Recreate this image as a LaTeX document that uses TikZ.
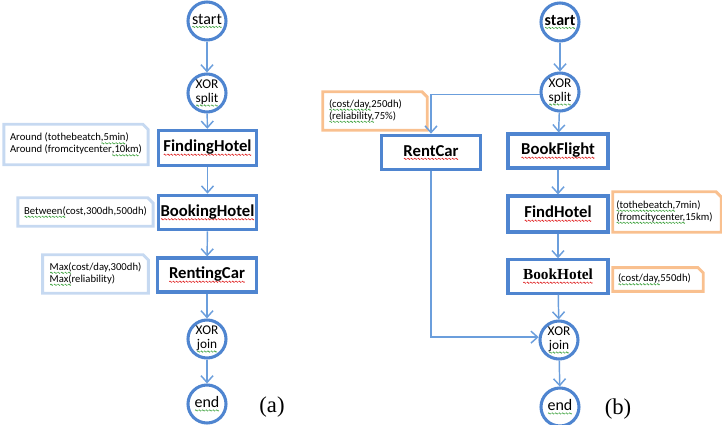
\documentclass[tikz,border=0pt]{standalone}
\usepackage{fontspec}
\setmainfont{Carlito}
\newfontfamily\tnr{Liberation Serif}
\usetikzlibrary{arrows.meta}
\definecolor{boxblue}{HTML}{4F85D0}
\definecolor{lineblue}{HTML}{6B9EDC}
\definecolor{annblue}{HTML}{C6D9F1}
\definecolor{annorange}{HTML}{F9C08F}
\definecolor{wred}{HTML}{E02020}
\definecolor{wgreen}{HTML}{3FA33F}
\newsavebox\rwvbox
\newsavebox\gwvbox
\newsavebox\wvtmpbox
\newcommand\mkwave[2]{\sbox#1{\begin{pgfpicture}\pgfsetcolor{#2}\pgfsetlinewidth{0.45pt}%
  \pgfpathmoveto{\pgfpoint{0pt}{0.5pt}}%
  \pgfpathsine{\pgfpoint{0.5pt}{0.5pt}}\pgfpathcosine{\pgfpoint{0.5pt}{-0.5pt}}%
  \pgfpathsine{\pgfpoint{0.5pt}{-0.5pt}}\pgfpathcosine{\pgfpoint{0.5pt}{0.5pt}}%
  \pgfusepath{stroke}\end{pgfpicture}}}
\newcommand\wavewith[2]{\leavevmode\sbox\wvtmpbox{#2}\rlap{\lower2.8pt\hbox to\wd\wvtmpbox{\xleaders\copy#1\hfill}}\usebox\wvtmpbox}
\newcommand\rwave[1]{\wavewith\rwvbox{#1}}
\newcommand\gwave[1]{\wavewith\gwvbox{#1}}
\newcommand\annframe[2]{\draw[draw=#2,line width=2.2pt] (#1.south west) -- (#1.north west)
  -- ([xshift=-4pt]#1.north east) -- ([yshift=-4pt]#1.north east) -- (#1.south east) -- cycle;}
\begin{document}
\mkwave\rwvbox{wred}%
\mkwave\gwvbox{wgreen}%
\begin{tikzpicture}[x=0.75pt,y=-0.75pt,
  evt/.style={circle,draw=boxblue,line width=2.3pt,fill=white,minimum size=28.5pt,inner sep=0pt,
    font=\fontsize{12}{13}\selectfont},
  gate/.style={circle,draw=boxblue,line width=2.3pt,fill=white,minimum size=28.5pt,inner sep=0pt,
    align=center,font=\fontsize{10}{11}\selectfont},
  task/.style={rectangle,draw=boxblue,line width=2.3pt,fill=white,minimum width=74pt,minimum height=26pt,
    inner sep=0pt,font=\fontsize{12.5}{14}\selectfont\bfseries},
  ann/.style={rectangle,align=left,font=\fontsize{8}{9}\selectfont,inner xsep=4.5pt,inner ysep=0pt},
  flow/.style={draw=lineblue,line width=1.1pt,-{Straight Barb[length=5pt,width=9pt,line width=1.1pt]}}]
\useasboundingbox (0,0) rectangle (722,425);
% ---------- (a) ----------
\node[evt] (sA) at (207,21) {\gwave{start}};
\node[gate] (xsA) at (207,93) {XOR\\\gwave{split}};
\node[task,minimum width=74pt,minimum height=26.5pt] (fhA) at (207.5,148) {\rwave{FindingHotel}};
\node[task,minimum height=26pt] (bhA) at (207.5,212.5) {\rwave{BookingHotel}};
\node[task,minimum height=25.5pt] (rcA) at (207,275) {\rwave{RentingCar}};
\node[gate] (xjA) at (207,339) {XOR\\\gwave{join}};
\node[evt] (eA) at (207,404) {\gwave{end}};
\node[ann,minimum width=106pt,minimum height=30pt] (a1) at (76,144.5)
  {Around (tothebeatch\gwave{,5min})\\Around (fromcitycenter\gwave{,10km})};
\annframe{a1}{annblue}
\node[ann,minimum width=101pt,minimum height=21pt] (a2) at (85.5,212)
  {\gwave{Between(}cost,300dh,500dh)};
\annframe{a2}{annblue}
\node[ann,minimum width=79pt,minimum height=28.5pt] (a3) at (95.5,274)
  {\gwave{Max(}cost/day,300dh)\\\gwave{Max(}reliability)};
\annframe{a3}{annblue}
\draw[flow] (sA) -- (xsA);
\draw[flow] (xsA) -- (fhA);
\draw[flow] (fhA) -- (bhA);
\draw[flow] (bhA) -- (rcA);
\draw[flow] (rcA) -- (xjA);
\draw[flow] (xjA) -- (eA);
\node[font=\tnr\fontsize{17}{18}\selectfont] (la) at (272,407) {(a)};
% ---------- (b) ----------
\node[evt,font=\fontsize{12}{13}\selectfont\bfseries] (sB) at (560,22) {\gwave{start}};
\node[gate] (xsB) at (560,92) {XOR\\\gwave{split}};
\node[task,minimum width=74pt,minimum height=26pt] (rB) at (431,152.5) {\rwave{RentCar}};
\node[task,minimum width=75pt,minimum height=25.5pt] (bfB) at (558,151) {\rwave{BookFlight}};
\node[task,minimum width=75pt,minimum height=27pt] (fhB) at (558,214) {\rwave{FindHotel}};
\node[task,minimum width=75pt,minimum height=25pt,font=\tnr\fontsize{11.5}{13}\selectfont\bfseries] (bhB) at (558,276.5) {\rwave{BookHotel}};
\node[gate] (xjB) at (559,340) {XOR\\\gwave{join}};
\node[evt] (eB) at (560,407) {\gwave{end}};
\node[ann,minimum width=78pt,minimum height=28.5pt,text width=69pt] (b1) at (375,111)
  {\gwave{(cost/day,}250dh)\\\gwave{(reliability,}75\%)};
\annframe{b1}{annorange}
\node[ann,minimum width=81pt,minimum height=30pt,text width=76pt,inner xsep=2.5pt] (b2) at (667,212)
  {\gwave{(tothebeatch,}7min)\\\gwave{(fromcitycenter,}15km)};
\annframe{b2}{annorange}
\node[ann,minimum width=67.5pt,minimum height=17.5pt,text width=60pt,inner xsep=3.75pt] (b3) at (658,279.5)
  {\gwave{(cost/day,}550dh)};
\annframe{b3}{annorange}
\draw[flow] (sB) -- (xsB);
\draw[flow] (xsB.187) -| (rB.north);
\draw[flow] (xsB) -- (bfB);
\draw[flow] (bfB) -- (fhB);
\draw[flow] (fhB) -- (bhB);
\draw[flow] (bhB) -- (xjB);
\draw[flow] (rB.south) |- (xjB.172);
\draw[flow] (xjB) -- (eB);
\node[font=\tnr\fontsize{17}{18}\selectfont] (lb) at (618,409) {(b)};
\end{tikzpicture}
\end{document}
